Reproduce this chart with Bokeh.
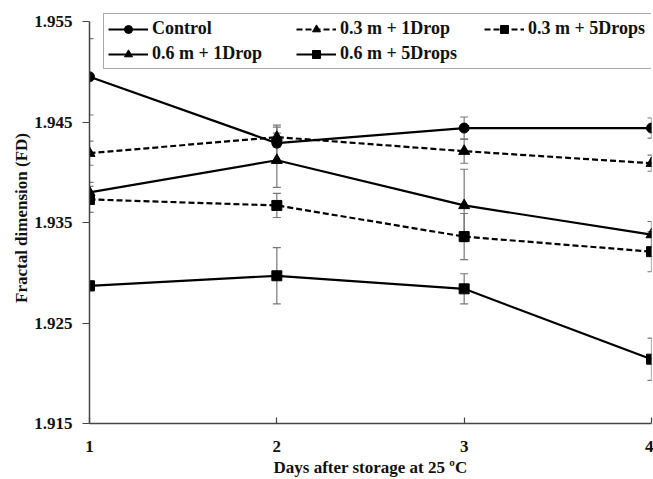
from bokeh.plotting import figure
from bokeh.models import (ColumnDataSource, Whisker, TeeHead, Legend, LegendItem,
                          FixedTicker, NumeralTickFormatter, Range1d)
from bokeh.embed import file_html
from bokeh.resources import INLINE

days = [1, 2, 3, 4]
day_ticks = [1, 2, 3, 4]
y_ticks = [1.915, 1.925, 1.935, 1.945, 1.955]
y_axis_bounds = (1.915, 1.955)

series_names = ["Control", "0.3 m + 1Drop", "0.3 m + 5Drops", "0.6 m + 1Drop", "0.6 m + 5Drops"]
control = [1.9495, 1.9429, 1.9444, 1.9444]
control_err = [0.0038, 0.0018, 0.0011, 0.0010]
m03_1drop = [1.9419, 1.9435, 1.9421, 1.9409]
m03_1drop_err = [0.0012, 0.0010, 0.0012, 0.0008]
m03_5drops = [1.9373, 1.9367, 1.9336, 1.9321]
m03_5drops_err = [0.0013, 0.0012, 0.0023, 0.0020]
m06_1drop = [1.9380, 1.9412, 1.9367, 1.9338]
m06_1drop_err = [0.0010, 0.0027, 0.0036, 0.0013]
m06_5drops = [1.9287, 1.9297, 1.9284, 1.9214]
m06_5drops_err = [0.0005, 0.0028, 0.0015, 0.0021]

FONT = "Liberation Serif"
INK = "#111111"

p = figure(width=653, height=479, output_backend="svg", toolbar_location=None,
           x_range=Range1d(1, 4), y_range=Range1d(1.915, 1.9559),
           min_border_left=89, min_border_right=2, min_border_top=12, min_border_bottom=55)
p.outline_line_color = None
p.xgrid.visible = False
p.ygrid.visible = False
p.background_fill_color = "white"

styles = [
    (series_names[0], control, control_err, "solid", "circle", 10),
    (series_names[1], m03_1drop, m03_1drop_err, "6 3", "triangle", 11),
    (series_names[2], m03_5drops, m03_5drops_err, "6 3", "square", 10),
    (series_names[3], m06_1drop, m06_1drop_err, "solid", "triangle", 11),
    (series_names[4], m06_5drops, m06_5drops_err, "solid", "square", 10),
]

items = []
for name, vals, errs, dash, marker, size in styles:
    src = ColumnDataSource(dict(x=days, y=vals,
                                lo=[v - e for v, e in zip(vals, errs)],
                                hi=[v + e for v, e in zip(vals, errs)]))
    w = Whisker(source=src, base="x", lower="lo", upper="hi",
                line_color="#777777", line_width=1.2,
                upper_head=TeeHead(size=8, line_color="#777777", line_width=1.2),
                lower_head=TeeHead(size=8, line_color="#777777", line_width=1.2))
    p.add_layout(w)
    ln = p.line("x", "y", source=src, line_color="black", line_width=2.2, line_dash=dash)
    mk = p.scatter("x", "y", source=src, marker=marker, size=size,
                   fill_color="black", line_color="black")
    items.append(LegendItem(label=name, renderers=[ln, mk]))

legend = Legend(items=items, orientation="horizontal", ncols=3,
                location=(14, 354), glyph_width=40, glyph_height=20,
                label_standoff=4, spacing=4, padding=4, margin=0,
                label_width=140, label_height=20,
                label_text_font=FONT, label_text_font_style="bold",
                label_text_font_size="18px", label_text_color=INK,
                border_line_color="#555555", border_line_width=1.5,
                background_fill_alpha=1.0)
p.add_layout(legend, "center")

p.xaxis.ticker = FixedTicker(ticks=day_ticks)
p.yaxis.ticker = FixedTicker(ticks=y_ticks)
p.yaxis.bounds = y_axis_bounds
p.yaxis.formatter = NumeralTickFormatter(format="0.000")
for ax in (p.xaxis[0], p.yaxis[0]):
    ax.axis_line_color = "#444444"
    ax.axis_line_width = 1.5
    ax.major_tick_line_color = "#444444"
    ax.major_tick_line_width = 1.2
    ax.minor_tick_line_color = None
    ax.major_label_text_font = FONT
    ax.major_label_text_font_style = "bold"
    ax.major_label_text_font_size = "17px"
    ax.major_label_text_color = INK
    ax.axis_label_text_font = FONT
    ax.axis_label_text_font_style = "bold"
    ax.axis_label_text_font_size = "17px"
    ax.axis_label_text_color = INK

p.xaxis.major_tick_in = 6
p.xaxis.major_tick_out = 0
p.xaxis.major_label_standoff = 17
p.xaxis.axis_label = "Days after storage at 25 ºC"
p.xaxis.axis_label_standoff = 3

p.yaxis.major_tick_in = 0
p.yaxis.major_tick_out = 7
p.yaxis.major_label_standoff = 10
p.yaxis.axis_label = "Fractal dimension (FD)"
p.yaxis.axis_label_standoff = 0

open("out.html", "w").write(file_html(p, INLINE))
